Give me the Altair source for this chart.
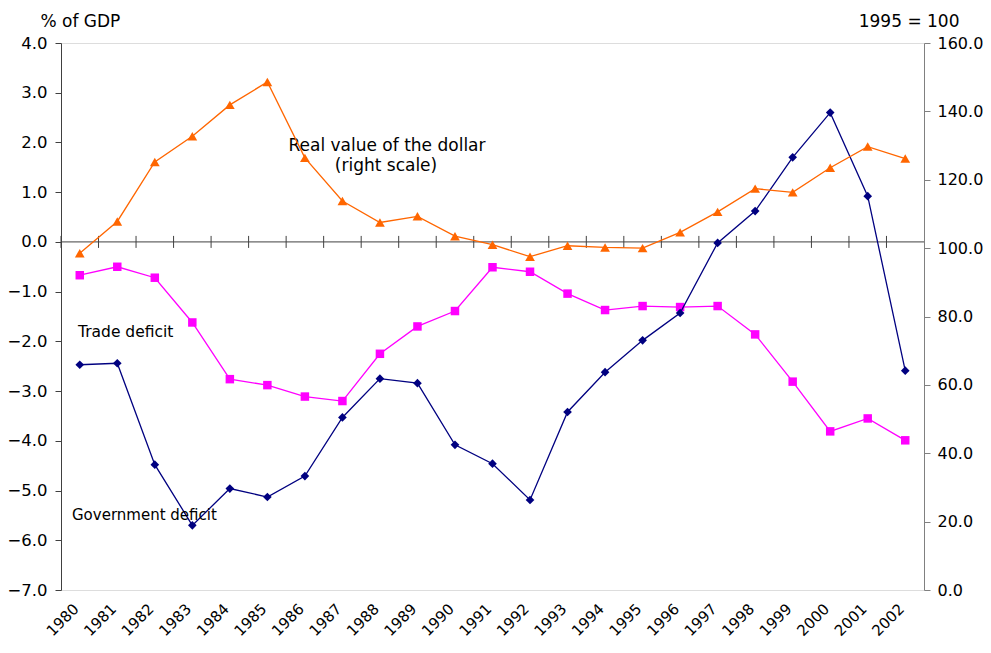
import altair as alt
import pandas as pd

# ---- data ----
years = list(range(1980, 2003))
government_deficit = [-2.47, -2.44, -4.48, -5.70, -4.96, -5.13, -4.71, -3.53, -2.75, -2.84,
                      -4.08, -4.46, -5.19, -3.42, -2.62, -1.98, -1.43, -0.02, 0.62, 1.70,
                      2.60, 0.92, -2.59]
trade_deficit = [-0.67, -0.50, -0.72, -1.62, -2.76, -2.88, -3.11, -3.20, -2.25, -1.70,
                 -1.39, -0.51, -0.60, -1.04, -1.37, -1.29, -1.31, -1.29, -1.86, -2.81,
                 -3.81, -3.55, -3.99]
dollar_real_value = [98.5, 107.8, 125.2, 132.7, 141.9, 148.6, 126.4, 113.8, 107.5, 109.3,
                     103.5, 101.0, 97.5, 100.7, 100.2, 100.0, 104.6, 110.6, 117.4, 116.3,
                     123.5, 129.7, 126.2]
left_ticks = [-7, -6, -5, -4, -3, -2, -1, 0, 1, 2, 3, 4]
right_ticks = [0, 20, 40, 60, 80, 100, 120, 140, 160]

df = pd.DataFrame({
    "year": years,
    "gov": government_deficit,
    "trade": trade_deficit,
    "dollar": dollar_real_value,
})

FONT = "DejaVu Sans"
W, H = 863, 547
NAVY = "#000080"
MAGENTA = "#FF00FF"
ORANGE = "#FF6600"
AXIS_DARK = "#404040"
AXIS_GRAY = "#808080"

x_scale = alt.Scale(domain=[1979.5, 2002.5], nice=False, zero=False)
x_axis = alt.Axis(values=years, format="d", labelAngle=-45, labelAlign="right",
                  labelBaseline="middle", labelPadding=16, labelOffset=-4,
                  labelFontSize=15, labelColor="black", labelFont=FONT,
                  domain=False, ticks=False, grid=False, title=None,
                  labelOverlap=False)


def X(field):
    return alt.X(field, type="quantitative", scale=x_scale, axis=x_axis)


left_scale = alt.Scale(domain=[-7, 4], nice=False, zero=False)
left_axis = alt.Axis(values=left_ticks, format=".1f", orient="left",
                     title="% of GDP", titleAngle=0, titleX=-21, titleY=-17,
                     titleAlign="left", titleBaseline="alphabetic", titleFontSize=17,
                     titleFontWeight="normal", titleFont=FONT, titleColor="black",
                     labelFontSize=16.5, labelFont=FONT, labelColor="black",
                     labelPadding=8, tickSize=6, domainColor=AXIS_DARK,
                     tickColor=AXIS_DARK, grid=False)

right_scale = alt.Scale(domain=[0, 160], nice=False, zero=True)
right_axis = alt.Axis(values=right_ticks, format=".1f", orient="right",
                      title="1995 = 100", titleAngle=0, titleX=35, titleY=-17,
                      titleAlign="right", titleBaseline="alphabetic", titleFontSize=17,
                      titleFontWeight="normal", titleFont=FONT, titleColor="black",
                      labelFontSize=16, labelFont=FONT, labelColor="black",
                      labelPadding=7, tickSize=6, domainColor=AXIS_GRAY,
                      tickColor=AXIS_GRAY, grid=False)

base = alt.Chart(df)

zero_line = alt.Chart(pd.DataFrame({"z": [0]})).mark_rule(
    color=AXIS_DARK, strokeWidth=1
).encode(
    y=alt.YDatum(0, type="quantitative", scale=left_scale, axis=left_axis)
)

boundary_ticks = base.transform_calculate(b="datum.year - 0.5").mark_rule(
    color=AXIS_DARK, strokeWidth=1, yOffset=-6, y2Offset=6
).encode(
    x=X("b"),
    y=alt.YDatum(0, type="quantitative", scale=left_scale, axis=left_axis),
    y2=alt.Y2Datum(0),
)


def series(field, color, shape, size):
    y = alt.Y(field, type="quantitative", scale=left_scale, axis=left_axis)
    line = base.mark_line(color=color, strokeWidth=1.3).encode(x=X("year"), y=y)
    pts = base.mark_point(color=color, fill=color, filled=True, shape=shape,
                          size=size, opacity=1).encode(x=X("year"), y=y)
    return line + pts


gov = series("gov", NAVY, "diamond", 75)
trade = series("trade", MAGENTA, "square", 72)


def label(txt, x, y, align="left", size=15):
    return alt.Chart(pd.DataFrame({"t": [txt]})).mark_text(
        align=align, baseline="alphabetic", font=FONT, fontSize=size, color="black"
    ).encode(text="t:N", x=alt.value(x), y=alt.value(y))


annotations = (
    label("Real value of the dollar", 326, 108, "center", 17)
    + label("(right scale)", 325, 128, "center", 17)
    + label("Trade deficit", 17, 294, "left", 15.5)
    + label("Government deficit", 11, 477, "left", 15)
)

left_layer = alt.layer(zero_line, boundary_ticks, trade, gov, annotations)

y_r = alt.Y("dollar", type="quantitative", scale=right_scale, axis=right_axis)
dollar_line = base.mark_line(color=ORANGE, strokeWidth=1.3).encode(x=X("year"), y=y_r)
dollar_pts = base.mark_point(color=ORANGE, fill=ORANGE, filled=True, shape="triangle-up",
                             size=95, opacity=1).encode(x=X("year"), y=y_r)
right_layer = alt.layer(dollar_line, dollar_pts)

chart = alt.layer(left_layer, right_layer).resolve_scale(y="independent").properties(
    width=W, height=H,
    autosize=alt.AutoSizeParams(type="none"),
    padding={"left": 53, "top": 35, "right": 59, "bottom": 55},
).configure_view(stroke=None).configure(font=FONT)

chart.save("out.html", embed_options={"renderer": "svg", "actions": False})
